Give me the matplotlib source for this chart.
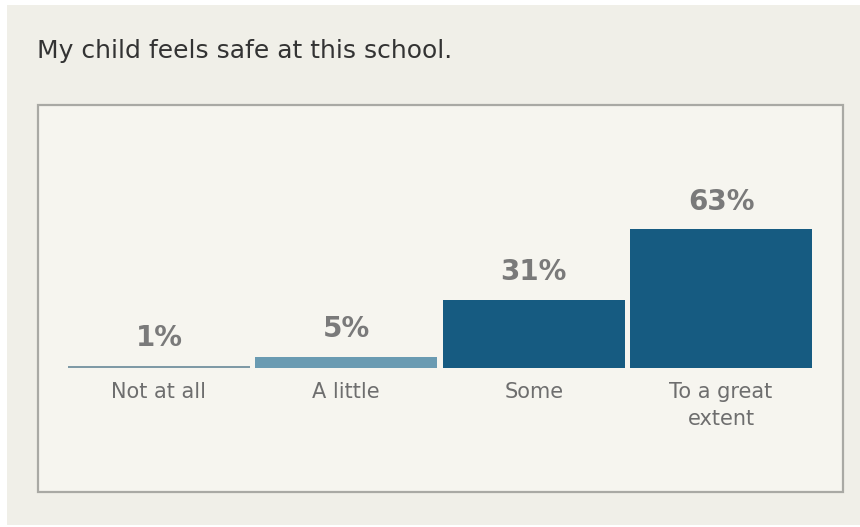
import matplotlib.pyplot as plt
from matplotlib.patches import Rectangle

# survey data
title = "My child feels safe at this school."
categories = ["Not at all", "A little", "Some", "To a great\nextent"]
values = [1, 5, 31, 63]
bar_colors = ["#7f9aa6", "#6a9bb2", "#165b81", "#165b81"]

W, H = 860, 527
fig = plt.figure(figsize=(W / 100, H / 100), dpi=100)
fig.patch.set_facecolor("#f0efe8")

# white strips round the outer panel
for r in [(0, 0, 7 / W, 1), (0, 0, 1, 2 / H), (0, 1 - 5 / H, 1, 5 / H)]:
    fig.patches.append(Rectangle(r[:2], r[2], r[3], transform=fig.transFigure,
                                 facecolor="white", edgecolor="none", zorder=-2))

# inner framed box
bx0, by0, bx1, by1 = 38, 105, 843, 492
fig.patches.append(Rectangle((bx0 / W, 1 - by1 / H), (bx1 - bx0) / W, (by1 - by0) / H,
                             transform=fig.transFigure, facecolor="#f6f5ef",
                             edgecolor="#a9a9a4", linewidth=1.6, zorder=-1))

fig.text(37 / W, 1 - 51 / H, title, fontsize=18, color="#333333",
         va="center", ha="left")

# axes: baseline at y=368 px, 2.2 px per percent
left, right = 65.25, 814.75
base = 368
top = base - 70 * 2.2
ax = fig.add_axes([left / W, 1 - base / H, (right - left) / W, (base - top) / H])
ax.set_zorder(2)
ax.set_xlim(-0.5, 3.5)
ax.set_ylim(0, 70)
ax.axis("off")

x = range(len(values))
ax.bar(x, values, width=0.97, color=bar_colors, zorder=2)

for i, v in enumerate(values):
    ax.annotate(f"{v}%", (i, v), xytext=(0, 10), textcoords="offset points",
                ha="center", va="bottom", fontsize=20, fontweight="bold",
                color="#7a7a7a")
    ax.annotate(categories[i], (i, 0), xytext=(0, -10), textcoords="offset points",
                ha="center", va="top", fontsize=15, color="#6e6e6e",
                linespacing=1.45)

fig.savefig("out.png", dpi=100, facecolor=fig.get_facecolor())
